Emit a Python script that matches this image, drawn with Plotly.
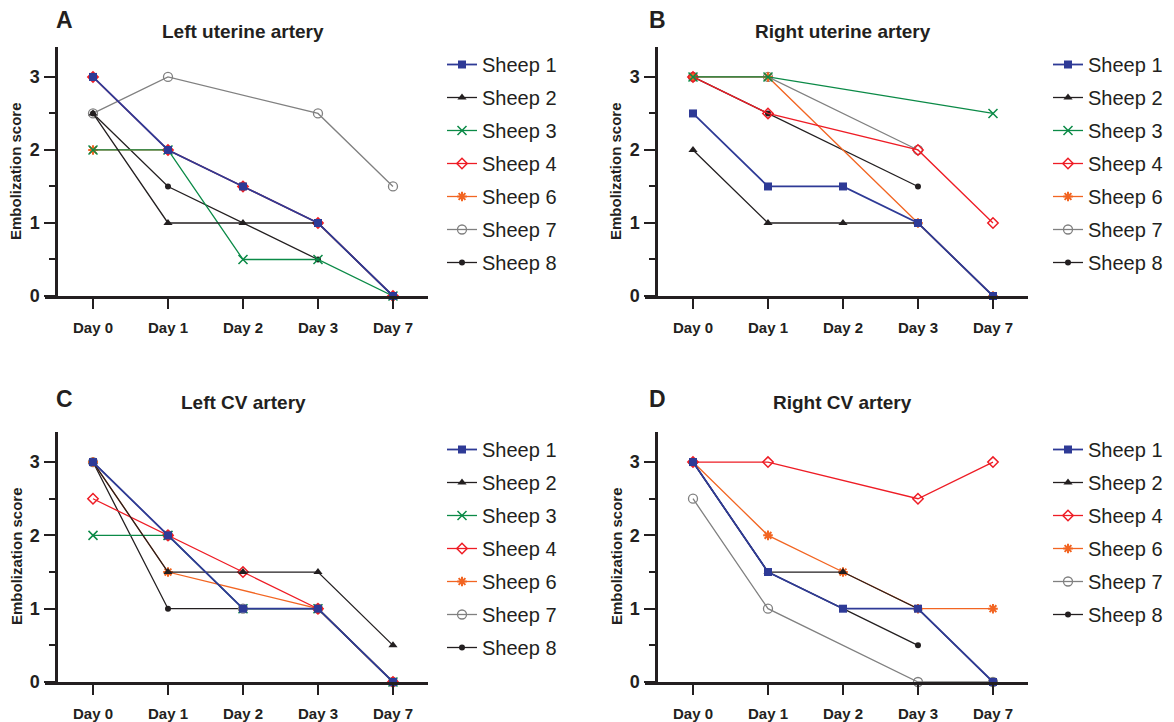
import plotly.graph_objects as go

W, H = 1174, 722          # target picture size
FIG_H = 732               # figure height (picture is shown slightly compressed vertically)

days = ["Day 0", "Day 1", "Day 2", "Day 3", "Day 7"]
y_ticks = [0, 1, 2, 3]

panel_letters = ["A", "B", "C", "D"]
panel_titles = ["Left uterine artery", "Right uterine artery", "Left CV artery", "Right CV artery"]
y_title = "Embolization score"

# Panel A - Left uterine artery
a_sheep1 = [3, 2, 1.5, 1, 0]
a_sheep2 = [2.5, 1, 1, 1, 0]
a_sheep3 = [2, 2, 0.5, 0.5, 0]
a_sheep4 = [3, 2, 1.5, 1, 0]
a_sheep6 = [2, 2, 1.5, 1, 0]
a_sheep7 = [2.5, 3, None, 2.5, 1.5]
a_sheep8 = [2.5, 1.5, None, 0.5, None]

# Panel B - Right uterine artery
b_sheep1 = [2.5, 1.5, 1.5, 1, 0]
b_sheep2 = [2, 1, 1, 1, 0]
b_sheep3 = [3, 3, None, None, 2.5]
b_sheep4 = [3, 2.5, None, 2, 1]
b_sheep6 = [3, 3, None, 1, 0]
b_sheep7 = [3, 3, None, 2, None]
b_sheep8 = [3, 2.5, None, 1.5, None]

# Panel C - Left CV artery
c_sheep1 = [3, 2, 1, 1, 0]
c_sheep2 = [3, 1.5, 1.5, 1.5, 0.5]
c_sheep3 = [2, 2, 1, 1, 0]
c_sheep4 = [2.5, 2, 1.5, 1, 0]
c_sheep6 = [3, 1.5, None, 1, 0]
c_sheep7 = [3, 2, 1, 1, 0]
c_sheep8 = [3, 1, 1, 1, None]

# Panel D - Right CV artery (no Sheep 3)
d_sheep1 = [3, 1.5, 1, 1, 0]
d_sheep2 = [3, 1.5, 1.5, 1, 0]
d_sheep4 = [3, 3, None, 2.5, 3]
d_sheep6 = [3, 2, 1.5, 1, 1]
d_sheep7 = [2.5, 1, None, 0, 0]
d_sheep8 = [3, 1.5, 1, 0.5, None]

panels = [
    {"Sheep 1": a_sheep1, "Sheep 2": a_sheep2, "Sheep 3": a_sheep3, "Sheep 4": a_sheep4,
     "Sheep 6": a_sheep6, "Sheep 7": a_sheep7, "Sheep 8": a_sheep8},
    {"Sheep 1": b_sheep1, "Sheep 2": b_sheep2, "Sheep 3": b_sheep3, "Sheep 4": b_sheep4,
     "Sheep 6": b_sheep6, "Sheep 7": b_sheep7, "Sheep 8": b_sheep8},
    {"Sheep 1": c_sheep1, "Sheep 2": c_sheep2, "Sheep 3": c_sheep3, "Sheep 4": c_sheep4,
     "Sheep 6": c_sheep6, "Sheep 7": c_sheep7, "Sheep 8": c_sheep8},
    {"Sheep 1": d_sheep1, "Sheep 2": d_sheep2, "Sheep 4": d_sheep4,
     "Sheep 6": d_sheep6, "Sheep 7": d_sheep7, "Sheep 8": d_sheep8},
]

INK = "#231F20"
styles = {
    "Sheep 1": dict(color="#2E3A96", symbol="square", size=8, lw=1.8, mlw=0),
    "Sheep 2": dict(color=INK, symbol="triangle-up", size=8, lw=1.3, mlw=0),
    "Sheep 3": dict(color="#0B8A47", symbol="x-thin-open", size=9, lw=1.3, mlw=1.5),
    "Sheep 4": dict(color="#EE1C25", symbol="diamond-open", size=8, lw=1.3, mlw=1.5),
    "Sheep 6": dict(color="#F26522", symbol="asterisk-open", size=8, lw=1.3, mlw=2),
    "Sheep 7": dict(color="#808080", symbol="circle-open", size=9, lw=1.3, mlw=1.3),
    "Sheep 8": dict(color=INK, symbol="circle", size=6, lw=1.3, mlw=0),
}

FONT = "Liberation Sans, Arial, sans-serif"


def fx(px):
    return px / W


def fy(py):
    return 1 - py / H


# geometry (target picture pixels)
x_dom_px = [(45, 428), (645, 1028), (45, 428), (645, 1028)]
y_axis_px = [56, 656, 56, 656]
y_dom_px = [(47, 296), (47, 296), (432, 682), (432, 682)]
letter_pos = [(64, 20), (657, 20), (64, 399), (657, 399)]
title_pos = [(243, 31), (843, 31), (243, 402), (842, 402)]
ytitle_pos = [(16, 171), (616, 171), (16, 556), (616, 556)]
legend_pos = [(442, 45), (1048, 45), (442, 430), (1048, 430)]

fig = go.Figure()
layout = dict(
    width=W, height=FIG_H, margin=dict(l=0, r=0, t=0, b=0),
    paper_bgcolor="white", plot_bgcolor="white",
    showlegend=True, annotations=[],
)

for i, data in enumerate(panels):
    n = i + 1
    xa = "x" if n == 1 else f"x{n}"
    ya = "y" if n == 1 else f"y{n}"
    lg = "legend" if n == 1 else f"legend{n}"
    names = list(data.keys())
    # draw in reverse so earlier sheep are on top
    for rank, name in reversed(list(enumerate(names))):
        st = styles[name]
        fig.add_trace(go.Scatter(
            x=days, y=data[name], name=name, mode="lines+markers",
            connectgaps=True, cliponaxis=False,
            line=dict(color=st["color"], width=st["lw"]),
            marker=dict(symbol=st["symbol"], size=st["size"], color=st["color"],
                        line=dict(color=st["color"], width=st["mlw"])),
            xaxis=xa, yaxis=ya, legend=lg, legendrank=rank + 1,
            legendgroup=f"{n}-{name}",
        ))

    x0, x1 = x_dom_px[i]
    ytop, ybot = y_dom_px[i]
    layout["xaxis" if n == 1 else f"xaxis{n}"] = dict(
        domain=[fx(x0), fx(x1)], anchor=ya, type="category",
        range=[-0.64, 4.467], showgrid=False, zeroline=False,
        showline=True, linecolor=INK, linewidth=2.5,
        ticks="outside", ticklen=10, tickwidth=2, tickcolor=INK,
        tickfont=dict(family=FONT, size=15, color=INK, weight="bold"),
        ticklabelstandoff=6, fixedrange=True,
    )
    layout["yaxis" if n == 1 else f"yaxis{n}"] = dict(
        domain=[fy(ybot), fy(ytop)], anchor="free",
        position=fx(y_axis_px[i]),
        range=[0, 3.41], showgrid=False, zeroline=False,
        showline=True, linecolor=INK, linewidth=2.5,
        tickvals=y_ticks, ticks="outside", ticklen=11, tickwidth=2, tickcolor=INK,
        minor=dict(dtick=0.5, tick0=0, ticks="outside", ticklen=6, tickwidth=2, tickcolor=INK),
        tickfont=dict(family=FONT, size=18, color=INK, weight="bold"),
        ticklabelstandoff=1, fixedrange=True,
    )
    lx, ly = legend_pos[i]
    layout[lg] = dict(
        x=fx(lx), y=fy(ly), xanchor="left", yanchor="top",
        font=dict(family=FONT, size=20, color=INK),
        bgcolor="rgba(0,0,0,0)", borderwidth=0,
        traceorder="grouped", tracegroupgap=4, itemwidth=30,
    )
    ax, ay = letter_pos[i]
    layout["annotations"].append(dict(
        text=panel_letters[i], x=fx(ax), y=fy(ay), xref="paper", yref="paper",
        xanchor="center", yanchor="middle", showarrow=False,
        font=dict(family=FONT, size=23, color=INK, weight="bold")))
    tx, ty = title_pos[i]
    layout["annotations"].append(dict(
        text=panel_titles[i], x=fx(tx), y=fy(ty), xref="paper", yref="paper",
        xanchor="center", yanchor="middle", showarrow=False,
        font=dict(family=FONT, size=19, color=INK, weight="bold")))
    yx, yy = ytitle_pos[i]
    layout["annotations"].append(dict(
        text=y_title, x=fx(yx), y=fy(yy), xref="paper", yref="paper",
        xanchor="center", yanchor="middle", showarrow=False, textangle=-90,
        font=dict(family=FONT, size=15, color=INK, weight="bold")))

fig.update_layout(**layout)
fig.write_html(
    "out.html",
    config={"displayModeBar": False},
    post_script="document.body.style.margin='0';document.body.style.padding='0';",
)
